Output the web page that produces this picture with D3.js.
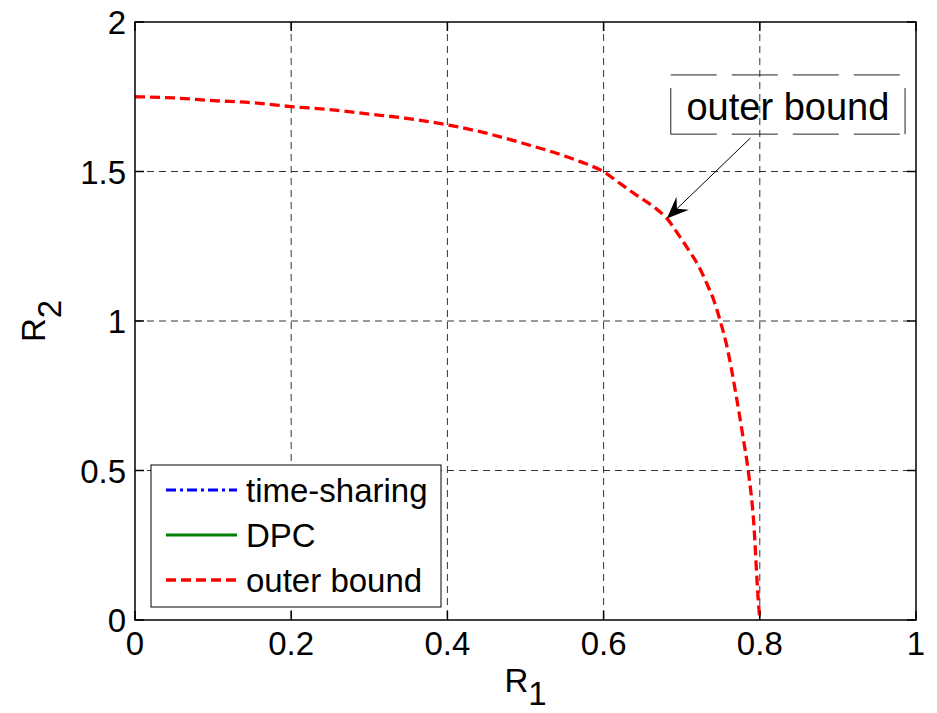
<!DOCTYPE html>
<html>
<head>
<meta charset="utf-8">
<script src="https://cdn.jsdelivr.net/npm/d3@7"></script>
<style>
  html, body { margin: 0; padding: 0; background: #fff; }
  svg { display: block; font-family: "Liberation Sans", Arial, sans-serif; }
  .tick-label { font-size: 33px; fill: #000; }
  .axis-title { font-size: 33px; fill: #000; }
  .legend-text { font-size: 33px; fill: #000; }
  .annot-text { font-size: 38px; fill: #000; }
</style>
</head>
<body>
<div id="chart"></div>
<script>
// --- data -------------------------------------------------------------------
const xTicks = [0, 0.2, 0.4, 0.6, 0.8, 1];
const yTicks = [0, 0.5, 1, 1.5, 2];

// outer bound curve
const outerR1 = [0, 0.05, 0.1, 0.15, 0.2, 0.25, 0.3, 0.35, 0.4, 0.45, 0.5, 0.55,
  0.57, 0.6, 0.621, 0.642, 0.664, 0.681, 0.696, 0.709, 0.722, 0.732, 0.741,
  0.749, 0.757, 0.77, 0.778, 0.785, 0.792, 0.798, 0.8];
const outerR2 = [1.75, 1.746, 1.737, 1.730, 1.717, 1.707, 1.692, 1.677, 1.656,
  1.628, 1.592, 1.552, 1.533, 1.499, 1.46, 1.421, 1.382, 1.343, 1.288, 1.237,
  1.182, 1.126, 1.07, 1.003, 0.925, 0.747, 0.62, 0.502, 0.334, 0.067, 0];

const legendNames = ["time-sharing", "DPC", "outer bound"];
const legendColors = ["#0000ff", "#008000", "#ff0000"];
const legendDash = ["10,4,3,4", null, "10,5"];

// textarrow annotation, data coordinates
const annotText = "outer bound";
const arrowTail = [0.788, 1.612];
const arrowTip = [0.681, 1.343];
const annotBoxX = [0.686, 0.986];
const annotBoxY = [1.823, 1.779, 1.625]; // dashed top, side top, bottom
const annotTextPos = [0.836, 1.672];

// --- layout ------------------------------------------------------------------
const W = 937, H = 713;
const M = { top: 22, right: 21, bottom: 93, left: 135 };
const iw = W - M.left - M.right, ih = H - M.top - M.bottom;

const svg = d3.select("#chart").append("svg").attr("width", W).attr("height", H);
const g = svg.append("g").attr("transform", `translate(${M.left},${M.top})`);

const x = d3.scaleLinear().domain([0, 1]).range([0, iw]);
const y = d3.scaleLinear().domain([0, 2]).range([ih, 0]);
const fmt = d3.format("~g");

// grid
const grid = g.append("g").attr("stroke", "#333").attr("stroke-width", 1)
  .attr("stroke-dasharray", "7,5");
grid.selectAll("line.vx").data(xTicks.slice(1, -1)).enter().append("line")
  .attr("x1", (d) => x(d)).attr("x2", (d) => x(d)).attr("y1", 0).attr("y2", ih);
grid.selectAll("line.hy").data(yTicks.slice(1, -1)).enter().append("line")
  .attr("x1", 0).attr("x2", iw).attr("y1", (d) => y(d)).attr("y2", (d) => y(d));

// outer bound curve
const pts = outerR1.map((v, i) => [v, outerR2[i]]);
g.append("path").datum(pts)
  .attr("fill", "none").attr("stroke", "#ff0000").attr("stroke-width", 3.3)
  .attr("stroke-dasharray", "10,5")
  .attr("d", d3.line().curve(d3.curveMonotoneX).x((d) => x(d[0])).y((d) => y(d[1])));

// axes box + inward ticks
const tl = 9;
const axes = g.append("g").attr("stroke", "#000").attr("stroke-width", 1.5);
axes.append("rect").attr("x", 0).attr("y", 0).attr("width", iw).attr("height", ih)
  .attr("fill", "none");
xTicks.forEach((d) => {
  axes.append("line").attr("x1", x(d)).attr("x2", x(d)).attr("y1", ih).attr("y2", ih - tl);
  axes.append("line").attr("x1", x(d)).attr("x2", x(d)).attr("y1", 0).attr("y2", tl);
});
yTicks.forEach((d) => {
  axes.append("line").attr("x1", 0).attr("x2", tl).attr("y1", y(d)).attr("y2", y(d));
  axes.append("line").attr("x1", iw).attr("x2", iw - tl).attr("y1", y(d)).attr("y2", y(d));
});

g.selectAll("text.xt").data(xTicks).enter().append("text")
  .attr("class", "tick-label").attr("text-anchor", "middle")
  .attr("x", (d) => x(d)).attr("y", ih + 35).text(fmt);
g.selectAll("text.yt").data(yTicks).enter().append("text")
  .attr("class", "tick-label").attr("text-anchor", "end")
  .attr("x", -9).attr("y", (d) => y(d) + 12).text(fmt);

// axis titles with subscripts
const xt = svg.append("text").attr("class", "axis-title").attr("text-anchor", "middle")
  .attr("x", M.left + iw / 2).attr("y", 692);
xt.append("tspan").text("R");
xt.append("tspan").attr("dy", 13).text("1");

const yt = svg.append("text").attr("class", "axis-title").attr("text-anchor", "middle")
  .attr("transform", `translate(45,${M.top + ih / 2}) rotate(-90)`);
yt.append("tspan").text("R");
yt.append("tspan").attr("dy", 16).text("2");

// legend
const lg = g.append("g").attr("transform", `translate(${151 - M.left},${465 - M.top})`);
lg.append("rect").attr("width", 290).attr("height", 142)
  .attr("fill", "#fff").attr("stroke", "#000").attr("stroke-width", 1);
legendNames.forEach((name, i) => {
  const ly = 25 + i * 45;
  lg.append("line").attr("x1", 15).attr("x2", 86).attr("y1", ly).attr("y2", ly)
    .attr("stroke", legendColors[i]).attr("stroke-width", i === 2 ? 3.3 : 2.8)
    .attr("stroke-dasharray", legendDash[i]);
  lg.append("text").attr("class", "legend-text").attr("x", 95).attr("y", ly + 12).text(name);
});

// annotation: dashed-edge text box + arrow
const an = g.append("g");
const bx0 = x(annotBoxX[0]), bx1 = x(annotBoxX[1]);
an.selectAll("line.edge").data([annotBoxY[0], annotBoxY[2]]).enter().append("line")
  .attr("x1", bx0).attr("x2", bx1).attr("y1", (d) => y(d)).attr("y2", (d) => y(d))
  .attr("stroke", "#222").attr("stroke-width", 1).attr("stroke-dasharray", "46,15");
an.selectAll("line.side").data([bx0, bx1]).enter().append("line")
  .attr("x1", (d) => d).attr("x2", (d) => d)
  .attr("y1", y(annotBoxY[1])).attr("y2", y(annotBoxY[2]))
  .attr("stroke", "#222").attr("stroke-width", 1);
an.append("text").attr("class", "annot-text").attr("text-anchor", "middle")
  .attr("x", x(annotTextPos[0])).attr("y", y(annotTextPos[1])).text(annotText);

const tx = x(arrowTail[0]), ty = y(arrowTail[1]);
const px = x(arrowTip[0]), py = y(arrowTip[1]);
const len = Math.hypot(px - tx, py - ty);
const ux = (px - tx) / len, uy = (py - ty) / len;   // along arrow
const nx = -uy, ny = ux;                              // normal
const hl = 22, hw = 9, notch = 14;
an.append("line").attr("x1", tx).attr("y1", ty)
  .attr("x2", px - ux * notch).attr("y2", py - uy * notch)
  .attr("stroke", "#000").attr("stroke-width", 1);
an.append("path")
  .attr("d", `M${px},${py}L${px - ux * hl + nx * hw},${py - uy * hl + ny * hw}` +
    `L${px - ux * notch},${py - uy * notch}L${px - ux * hl - nx * hw},${py - uy * hl - ny * hw}Z`)
  .attr("fill", "#000");
</script>
</body>
</html>
